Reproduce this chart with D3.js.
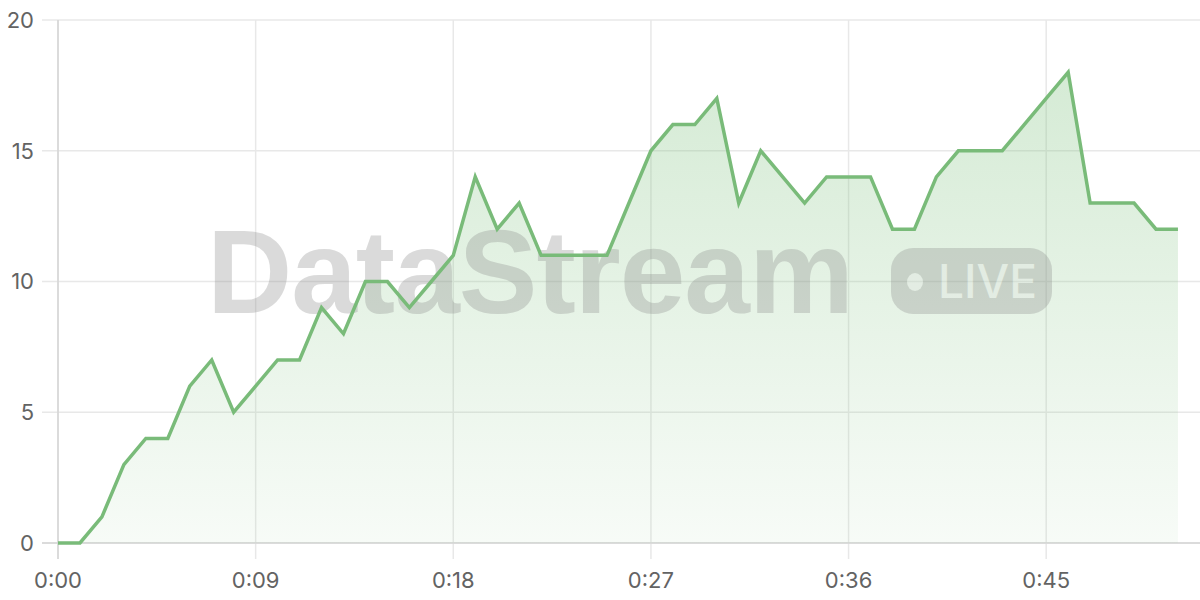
<!DOCTYPE html>
<html><head><meta charset="utf-8">
<script src="https://cdn.jsdelivr.net/npm/d3@7"></script>
<style>
html,body{margin:0;padding:0;background:#fff;}
svg{display:block;font-family:Inter,"Noto Sans",sans-serif;}
</style></head>
<body>
<svg id="chart" width="1200" height="600"></svg>
<script>
const seconds = d3.range(0, 52);
const values = [0,0,1,3,4,4,6,7,5,6,7,7,9,8,10,10,9,10,11,14,12,13,11,11,11,11,13,15,16,16,17,13,15,14,13,14,14,14,12,12,14,15,15,15,16,17,18,13,13,13,12,12];
const yTicks = [0,5,10,15,20];
const xTicks = [0,9,18,27,36,45];
const watermarkText = "DataStream";
const badgeText = "LIVE";

const svg = d3.select("#chart");
const m = {l:58, r:1200, t:20, b:543};
const x = d3.scaleLinear().domain([0,52]).range([m.l, m.l + 52*21.96]);
const y = d3.scaleLinear().domain([0,20]).range([m.b, m.t]);

const defs = svg.append("defs");
const grad = defs.append("linearGradient").attr("id","g").attr("gradientUnits","userSpaceOnUse")
  .attr("x1",0).attr("x2",0).attr("y1",y(18)).attr("y2",m.b);
grad.append("stop").attr("offset","0").attr("stop-color","#7cc07c").attr("stop-opacity",0.32);
grad.append("stop").attr("offset","1").attr("stop-color","#7cc07c").attr("stop-opacity",0.06);

// grid
svg.append("g").selectAll("line").data(yTicks).join("line")
  .attr("x1",42).attr("x2",1200).attr("y1",d=>y(d)).attr("y2",d=>y(d))
  .attr("stroke","#e8e8e8").attr("stroke-width",1.5);
svg.append("g").selectAll("line").data(xTicks).join("line")
  .attr("x1",d=>x(d)).attr("x2",d=>x(d)).attr("y1",m.t).attr("y2",m.b+16)
  .attr("stroke","#e8e8e8").attr("stroke-width",1.5);

// axes lines
svg.append("line").attr("x1",m.l).attr("x2",m.l).attr("y1",m.t).attr("y2",m.b+16).attr("stroke","#d4d4d4").attr("stroke-width",1.5);
svg.append("line").attr("x1",42).attr("x2",1200).attr("y1",m.b).attr("y2",m.b).attr("stroke","#d4d4d4").attr("stroke-width",1.5);

// labels
svg.append("g").selectAll("text").data(yTicks).join("text")
  .attr("x",34).attr("y",d=>y(d)).attr("dy","0.36em").attr("text-anchor","end")
  .attr("font-size",22).attr("fill","#636363").text(d=>d);
const fmt = s => Math.floor(s/60) + ":" + String(s%60).padStart(2,"0");
svg.append("g").selectAll("text").data(xTicks).join("text")
  .attr("x",d=>x(d)).attr("y",588).attr("text-anchor","middle")
  .attr("font-size",22).attr("fill","#636363").text(fmt);

// area
const data = seconds.map((s,i)=>({s, v:values[i]}));
svg.append("path").datum(data)
  .attr("d", d3.area().x(d=>x(d.s)).y0(m.b).y1(d=>y(d.v)))
  .attr("fill","url(#g)");

// watermark
const wm = svg.append("g").attr("opacity",0.3);
wm.append("text").attr("x",207).attr("y",313).attr("font-family","'Liberation Sans',Arial,sans-serif")
  .attr("font-weight","bold").attr("font-size",118).attr("fill","#888").attr("letter-spacing",-1).text(watermarkText);
wm.append("rect").attr("x",891).attr("y",248).attr("width",161).attr("height",66).attr("rx",22).attr("fill","#888");
wm.append("ellipse").attr("cx",915).attr("cy",282).attr("rx",8).attr("ry",9).attr("fill","#fff").attr("opacity",0.75);
wm.append("text").attr("x",938).attr("y",298).attr("font-family","Inter,'Liberation Sans',sans-serif")
  .attr("font-weight",500).attr("font-size",46).attr("fill","#fff").attr("opacity",0.75).text(badgeText);

// line
svg.append("path").datum(data)
  .attr("d", d3.line().x(d=>x(d.s)).y(d=>y(d.v)))
  .attr("fill","none").attr("stroke","#79bb79").attr("stroke-width",3.5).attr("stroke-linejoin","miter");
</script>
</body></html>
